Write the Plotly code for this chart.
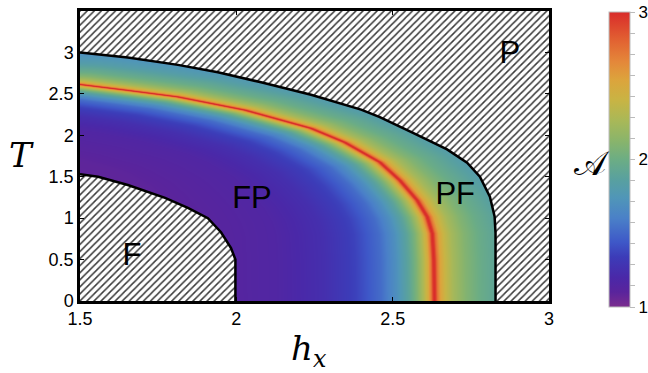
import numpy as np
import plotly.graph_objects as go

# ---- data ----
# upper phase boundary (FP/PF | P)
upper_hx = [1.5, 1.653, 1.813, 1.941, 2.079, 2.239, 2.399, 2.459, 2.565, 2.674, 2.738, 2.779, 2.811, 2.826, 2.829, 2.829]
upper_T = [3.0, 2.94, 2.85, 2.76, 2.64, 2.49, 2.31, 2.22, 2.03, 1.83, 1.67, 1.50, 1.26, 1.02, 0.82, 0.0]
# lower phase boundary (F | FP)
ferro_hx = [1.5, 1.558, 1.653, 1.772, 1.845, 1.909, 1.951, 1.983, 1.997, 1.997]
ferro_T = [1.53, 1.50, 1.40, 1.245, 1.125, 1.00, 0.83, 0.64, 0.50, 0.0]
# critical line (maximum of A)
crit_hx = [1.5, 1.65, 1.813, 2.028, 2.239, 2.347, 2.459, 2.523, 2.578, 2.61, 2.626, 2.631, 2.633]
crit_T = [2.62, 2.55, 2.47, 2.31, 2.09, 1.92, 1.68, 1.46, 1.22, 1.02, 0.82, 0.50, 0.0]
# profile of A versus distance from the critical line
dist_below = [0, 0.004, 0.01, 0.02, 0.035, 0.055, 0.08, 0.12, 0.17, 0.25, 0.35, 0.5, 0.8, 1.5]
A_below = [3.0, 2.95, 2.72, 2.48, 2.28, 2.08, 1.9, 1.7, 1.52, 1.36, 1.25, 1.16, 1.09, 1.05]
dist_above = [0, 0.004, 0.01, 0.02, 0.035, 0.06, 0.1, 0.15, 0.25, 0.4, 0.6]
A_above = [3.0, 2.95, 2.75, 2.55, 2.4, 2.25, 2.1, 1.98, 1.82, 1.66, 1.55]

x_ticks = [1.5, 2, 2.5, 3]
x_ticktext = ["1.5", "2", "2.5", "3"]
y_ticks = [0, 0.5, 1, 1.5, 2, 2.5, 3]
y_ticktext = ["0", "0.5", "1", "1.5", "2", "2.5", "3"]
cbar_labels = {1.0: "1", 2.0: "2", 3.0: "3"}

region_labels = ["P", "FP", "PF", "F"]
region_hx = [2.875, 2.05, 2.70, 1.666]
region_T = [2.97, 1.22, 1.26, 0.53]

colorscale = [
    [0.00, "#7b2d8e"], [0.05, "#5a249c"], [0.10, "#4a28a8"], [0.17, "#3c3cb8"],
    [0.22, "#3e58c8"], [0.30, "#4a80c8"], [0.37, "#5096b8"], [0.43, "#58a0a0"],
    [0.50, "#6cad84"], [0.56, "#88b46c"], [0.63, "#a8b858"], [0.70, "#c8b444"],
    [0.77, "#dca43c"], [0.83, "#e4883a"], [0.90, "#e26432"], [1.00, "#d92b2a"],
]

# ---- field of A on a grid ----
gx = np.linspace(1.5, 3.0, 471)
gy = np.linspace(0.0, 3.5, 291)
X, Y = np.meshgrid(gx, gy)
px = np.array(crit_hx)
py = np.array(crit_T)
d = np.full(X.shape, np.inf)
for i in range(len(px) - 1):
    ax_, ay_ = px[i], py[i]
    vx, vy = px[i + 1] - ax_, py[i + 1] - ay_
    t = np.clip(((X - ax_) * vx + (Y - ay_) * vy) / (vx * vx + vy * vy), 0, 1)
    d = np.minimum(d, np.hypot(X - (ax_ + t * vx), Y - (ay_ + t * vy)))
xc = np.interp(Y, py[::-1], px[::-1])
outside = (X > xc) | (Y > py[0])
Z = np.where(outside, np.interp(d, dist_above, A_above), np.interp(d, dist_below, A_below))
Z = np.round(Z, 3)

cb_vals = [round(1 + k / 7, 4) for k in range(15)]
cb_text = [cbar_labels.get(round(v, 4), "") for v in cb_vals]
cb_vals += [2.0]
cb_text += ["2"]

fig = go.Figure()
fig.add_trace(go.Heatmap(
    x=gx, y=gy, z=Z, colorscale=colorscale, zmin=1, zmax=3, zsmooth=False,
    hoverinfo="skip",
    colorbar=dict(
        x=(609 - 80) / 469, xanchor="left", y=(301 - 159.5) / 290, yanchor="middle",
        len=295, lenmode="pixels", thickness=21, thicknessmode="pixels",
        outlinewidth=1, outlinecolor="#bbbbbb", xpad=0, ypad=0,
        tickvals=cb_vals, ticktext=cb_text, ticks="outside", ticklen=5,
        tickcolor="#bbbbbb", tickfont=dict(family="Liberation Sans, Arial", size=17, color="black"),
    ),
))

hatch = dict(shape="/", size=5, solidity=0.3, fgcolor="#3a3a3a", bgcolor="white", fillmode="replace")
# P region
fig.add_trace(go.Scatter(
    x=upper_hx + [3.0, 3.0, 1.5], y=upper_T + [0.0, 3.5, 3.5],
    fill="toself", fillcolor="white", fillpattern=hatch, mode="none",
    hoverinfo="skip", showlegend=False,
))
# F region
fig.add_trace(go.Scatter(
    x=ferro_hx + [1.5], y=ferro_T + [0.0],
    fill="toself", fillcolor="white", fillpattern=hatch, mode="none",
    hoverinfo="skip", showlegend=False,
))
for bx, by in [(upper_hx, upper_T), (ferro_hx, ferro_T)]:
    fig.add_trace(go.Scatter(x=bx, y=by, mode="lines", line=dict(color="black", width=2.5),
                             hoverinfo="skip", showlegend=False))

fig.add_trace(go.Scatter(
    x=region_hx, y=region_T, text=region_labels, mode="text",
    textfont=dict(family="Liberation Sans, Arial", size=31, color="black"),
    hoverinfo="skip", showlegend=False,
))

axis_common = dict(showline=True, linewidth=2.5, linecolor="black", mirror="ticks",
                   ticks="inside", ticklen=4, tickwidth=1, tickcolor="black",
                   showgrid=False, zeroline=False,
                   tickfont=dict(family="Liberation Sans, Arial", size=18, color="black"))
fig.update_layout(
    width=648, height=373,
    margin=dict(l=80, r=99, t=11, b=72, autoexpand=False),
    paper_bgcolor="white", plot_bgcolor="white",
    xaxis=dict(range=[1.5, 3.0], tickvals=x_ticks, ticktext=x_ticktext, **axis_common),
    yaxis=dict(range=[0, 3.5], tickvals=y_ticks, ticktext=y_ticktext, **axis_common),
    showlegend=False,
    annotations=[
        dict(text="<i>T</i>", x=(21 - 80) / 469, y=(301 - 155) / 290, xref="paper", yref="paper",
             xanchor="center", yanchor="middle", showarrow=False,
             font=dict(family="DejaVu Serif", size=34, color="black")),
        dict(text="<i>h</i><sub><i>x</i></sub>", x=(309 - 80) / 469, y=(301 - 350) / 290,
             xref="paper", yref="paper", xanchor="center", yanchor="middle", showarrow=False,
             font=dict(family="DejaVu Serif", size=34, color="black")),
        dict(text="𝒜", x=(592 - 80) / 469, y=(301 - 163) / 290, xref="paper", yref="paper",
             xanchor="center", yanchor="middle", showarrow=False,
             font=dict(family="DejaVu Serif", size=34, color="black")),
    ],
)
fig.write_html("out.html", config={"displayModeBar": False},
               post_script="document.body.style.margin='0px';document.body.style.padding='0px';")
